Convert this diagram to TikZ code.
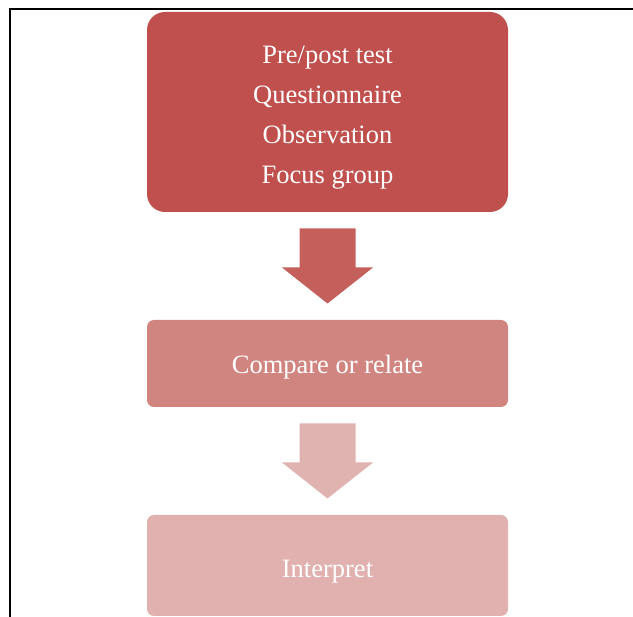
\documentclass[tikz,border=0pt]{standalone}
\usepackage{fontspec}
\setmainfont{Liberation Serif}
\usetikzlibrary{positioning,calc}
\definecolor{boxone}{HTML}{C0504D}
\definecolor{boxtwo}{HTML}{D18581}
\definecolor{boxthree}{HTML}{E0B1AF}
\definecolor{arrowone}{HTML}{C55F5B}
\definecolor{arrowtwo}{HTML}{E0B3B1}
\newcommand{\blockarrow}[3]{% colour, from node, to node
\fill[#1,shift={($(#2.south)!0.5!(#3.north)$)}] (-28,-37.5) -- (28,-37.5) -- (28,1.5) -- (45.5,1.5) -- (0,37.5) -- (-45.5,1.5) -- (-28,1.5) -- cycle;}

\begin{document}
\begin{tikzpicture}[x=1pt,y=-1pt]
\tikzstyle{stage}=[rectangle,rounded corners=7pt,text=white,align=center,inner sep=0pt,minimum width=361pt,font=\fontsize{26.5}{40}\selectfont]
\useasboundingbox (0,0) rectangle (633,617);
\draw[line width=2pt] (633,9) -- (10,9) -- (10,617);
\node[stage,fill=boxone,rounded corners=18pt,minimum height=200pt] (collect) at (327.5,112) {\rule{0pt}{28.5pt}Pre/post test\\Questionnaire\\Observation\\Focus group};
\node[stage,fill=boxtwo,minimum height=87pt] (compare) at (327.5,363.5) {\rule{0pt}{26.5pt}Compare or relate};
\node[stage,fill=boxthree,minimum height=101pt] (interpret) at (327.5,565.5) {\rule{0pt}{30.5pt}Interpret};
\blockarrow{arrowone}{collect}{compare}
\blockarrow{arrowtwo}{compare}{interpret}
\end{tikzpicture}
\end{document}
